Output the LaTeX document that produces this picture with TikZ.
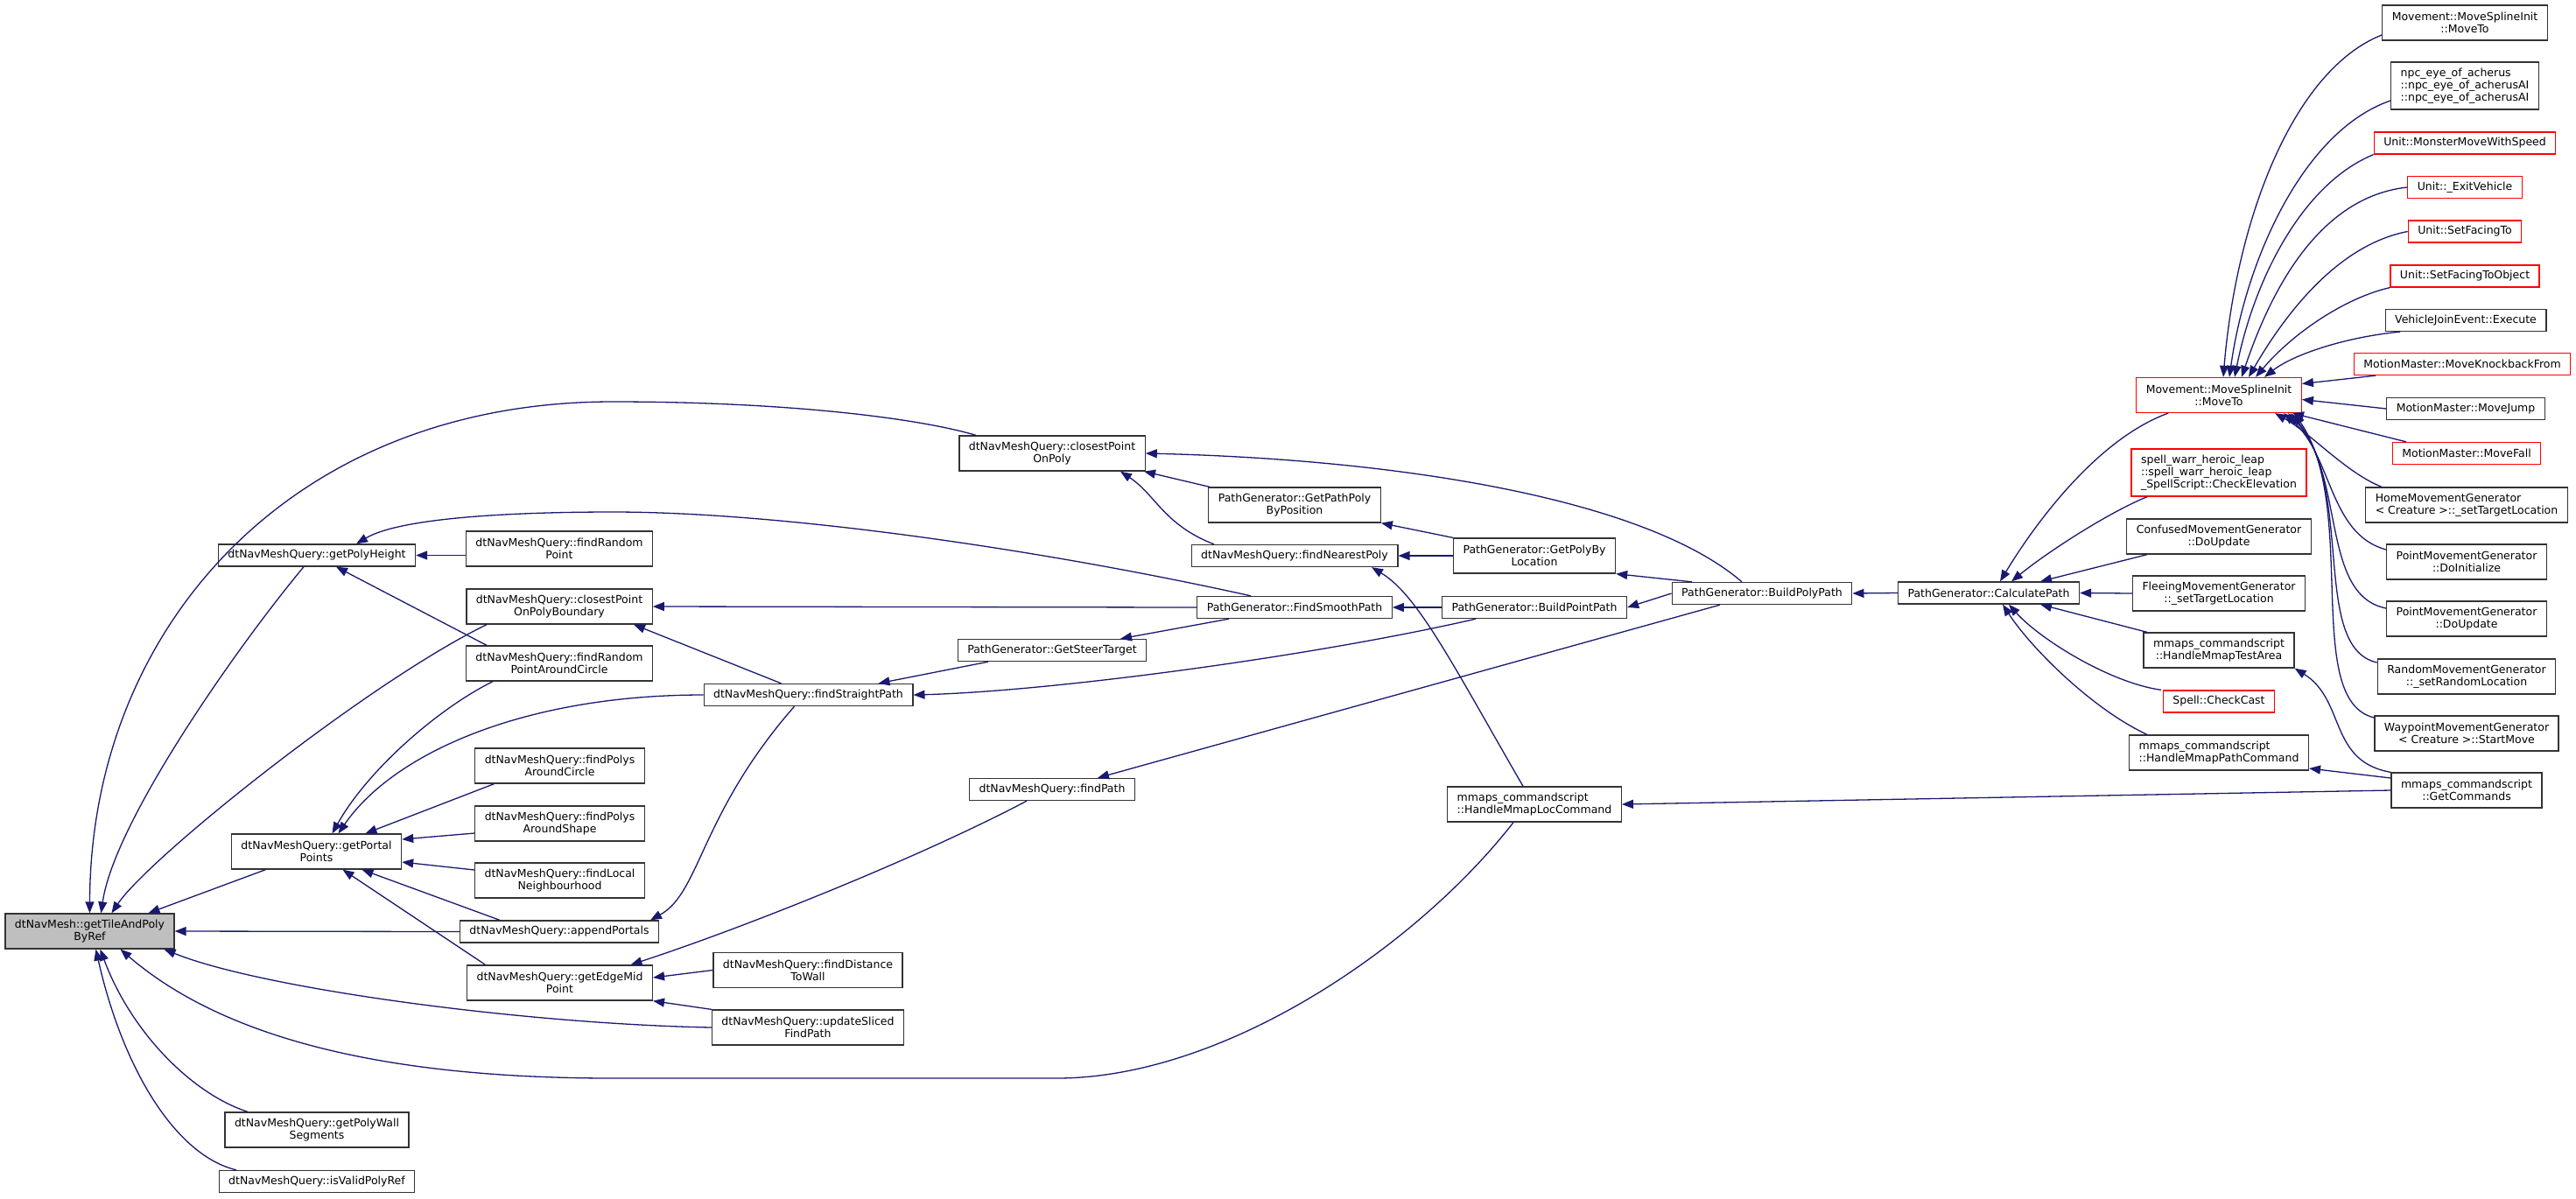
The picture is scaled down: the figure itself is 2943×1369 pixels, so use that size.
\documentclass[tikz,border=0pt]{standalone}
\usepackage{fontspec}
\newfontfamily\dvsans{DejaVu Sans}
\usepackage{tikz}
\usetikzlibrary{arrows.meta,calc}
\definecolor{edgeblue}{HTML}{191970}

\begin{document}
\begin{tikzpicture}[x=1pt, y=-1pt, >={Triangle[length=13pt,width=10pt]},
  fn/.style={draw=black!80, line width=1.3pt, fill=white, inner xsep=11pt, inner ysep=2pt,
    align=center, font=\dvsans\fontsize{12.5}{14}\selectfont},
  fnred/.style={fn, draw=red},
  one/.style={minimum height=25pt},
  two/.style={minimum height=40pt},
  three/.style={minimum height=54pt},
  call/.style={<-, draw=edgeblue, fill=none, line width=1.3pt}]

\fill [white] (0,0) rectangle (2943,1369);
\useasboundingbox (0,0) rectangle (2943,1369);

\node [fn, two, fill=black!25] at (102.5, 1064) (T) {dtNavMesh::getTileAndPoly\\ByRef};

\node [fn, one] at (362, 634.5) (PH) {dtNavMeshQuery::getPolyHeight};
\node [fn, two] at (361.5, 973) (PP) {dtNavMeshQuery::getPortal\\Points};
\node [fn, two] at (362, 1291) (WS) {dtNavMeshQuery::getPolyWall\\Segments};
\node [fn, one] at (362, 1350) (VR) {dtNavMeshQuery::isValidPolyRef};

\node [fn, two] at (639, 627) (RP) {dtNavMeshQuery::findRandom\\Point};
\node [fn, two] at (639, 693) (CB) {dtNavMeshQuery::closestPoint\\OnPolyBoundary};
\node [fn, two] at (639, 758) (RC) {dtNavMeshQuery::findRandom\\PointAroundCircle};
\node [fn, two] at (639.5, 875) (PC) {dtNavMeshQuery::findPolys\\AroundCircle};
\node [fn, two] at (639.5, 941) (PS) {dtNavMeshQuery::findPolys\\AroundShape};
\node [fn, two] at (639.5, 1006) (LN) {dtNavMeshQuery::findLocal\\Neighbourhood};
\node [fn, one] at (639, 1064.5) (AP) {dtNavMeshQuery::appendPortals};
\node [fn, two] at (639.5, 1123) (EM) {dtNavMeshQuery::getEdgeMid\\Point};

\node [fn, one] at (923.5, 794) (SP) {dtNavMeshQuery::findStraightPath};
\node [fn, two] at (923, 1108.5) (DW) {dtNavMeshQuery::findDistance\\ToWall};
\node [fn, two] at (923, 1174) (US) {dtNavMeshQuery::updateSliced\\FindPath};

\node [fn, two] at (1202, 518) (CP) {dtNavMeshQuery::closestPoint\\OnPoly};
\node [fn, one] at (1202, 743) (ST) {PathGenerator::GetSteerTarget};
\node [fn, one] at (1202, 902) (FP) {dtNavMeshQuery::findPath};

\node [fn, two] at (1479, 577) (GP) {PathGenerator::GetPathPoly\\ByPosition};
\node [fn, one] at (1479, 635) (NP) {dtNavMeshQuery::findNearestPoly};
\node [fn, one] at (1479, 694) (FS) {PathGenerator::FindSmoothPath};

\node [fn, two] at (1753, 635) (GL) {PathGenerator::GetPolyBy\\Location};
\node [fn, one] at (1753, 694) (BP) {PathGenerator::BuildPointPath};
\node [fn, two, align=left] at (1753, 919) (HL) {mmaps\_commandscript\\::HandleMmapLocCommand};

\node [fn, one] at (2013, 678) (PY) {PathGenerator::BuildPolyPath};
\node [fn, one] at (2272, 677.5) (CA) {PathGenerator::CalculatePath};

\node [fnred, two] at (2535, 451.5) (MS) {Movement::MoveSplineInit\\::MoveTo};
\node [fnred, three, align=left] at (2535, 540) (SW) {spell\_warr\_heroic\_leap\\::spell\_warr\_heroic\_leap\\\_SpellScript::CheckElevation};
\node [fn, two] at (2535, 613) (CF) {ConfusedMovementGenerator\\::DoUpdate};
\node [fn, two] at (2535, 678) (FL) {FleeingMovementGenerator\\::\_setTargetLocation};
\node [fn, two] at (2535, 743) (TA) {mmaps\_commandscript\\::HandleMmapTestArea};
\node [fnred, one] at (2535, 801.5) (CC) {Spell::CheckCast};
\node [fn, two, align=left] at (2535, 860) (PA) {mmaps\_commandscript\\::HandleMmapPathCommand};

\node [fn, two] at (2816, 26) (MT) {Movement::MoveSplineInit\\::MoveTo};
\node [fn, three, align=left] at (2816, 98) (NE) {npc\_eye\_of\_acherus\\::npc\_eye\_of\_acherusAI\\::npc\_eye\_of\_acherusAI};
\node [fnred, one] at (2816, 163.5) (MM) {Unit::MonsterMoveWithSpeed};
\node [fnred, one] at (2816, 214) (EV) {Unit::\_ExitVehicle};
\node [fnred, one] at (2816, 264.5) (FT) {Unit::SetFacingTo};
\node [fnred, one] at (2816, 315.5) (FO) {Unit::SetFacingToObject};
\node [fn, one] at (2817, 366) (VJ) {VehicleJoinEvent::Execute};
\node [fnred, one] at (2813, 416) (KB) {MotionMaster::MoveKnockbackFrom};
\node [fn, one] at (2817, 467) (MJ) {MotionMaster::MoveJump};
\node [fnred, one] at (2818, 518) (MF) {MotionMaster::MoveFall};
\node [fn, two, align=left] at (2818, 577) (HM) {HomeMovementGenerator\\< Creature >::\_setTargetLocation};
\node [fn, two] at (2818, 642) (PI) {PointMovementGenerator\\::DoInitialize};
\node [fn, two] at (2818, 707) (PU) {PointMovementGenerator\\::DoUpdate};
\node [fn, two] at (2818, 773) (RM) {RandomMovementGenerator\\::\_setRandomLocation};
\node [fn, two] at (2818, 838) (WP) {WaypointMovementGenerator\\< Creature >::StartMove};
\node [fn, two] at (2818, 903) (GC) {mmaps\_commandscript\\::GetCommands};

% callers of getTileAndPolyByRef
\draw [call] (T.north) .. controls (103,720) and (330,459) .. (700,459) .. controls (900,459) and (1050,478) .. ([xshift=-87pt]CP.north);
\draw [call] ([xshift=13pt]T.north) .. controls (130,940) and (270,740) .. ([xshift=-15pt]PH.south);
\draw [call] ([xshift=25pt]T.north) .. controls (170,980) and (420,780) .. ([xshift=-83pt]CB.south);
\draw [call] ([xshift=67pt]T.north) -- ([xshift=-58pt]PP.south);
\draw [call] (T.east) -- (AP.west);
\draw [call] ([xshift=85pt]T.south) .. controls (300,1130) and (600,1170) .. (US.west);
\draw [call] ([xshift=35pt]T.south) .. controls (260,1190) and (450,1232) .. (700,1232) -- (1207,1232) .. controls (1400,1232) and (1620,1080) .. ([xshift=-24pt]HL.south);
\draw [call] ([xshift=12pt]T.south) .. controls (150,1180) and (220,1250) .. ([xshift=-79pt]WS.north);
\draw [call] ([xshift=7pt]T.south) .. controls (140,1220) and (200,1320) .. ([xshift=-92pt]VR.north);

\draw [call] (PH.east) -- (PH.east -| RP.west);
\draw [call] ([xshift=22pt]PH.south) -- ([xshift=-83pt]RC.north);
\draw [call] ([xshift=45pt]PH.north) .. controls (460,590) and (600,585) .. (700,585) .. controls (900,585) and (1200,630) .. ([xshift=-50pt]FS.north);

\draw [call] (CB.east) -- (FS.west);
\draw [call] ([xshift=85pt]CB.south) -- ([xshift=-31pt]SP.north);

% callers of getPortalPoints
\draw [call] ([xshift=18pt]PP.north) .. controls (420,880) and (500,810) .. ([xshift=-76pt]RC.south);
\draw [call] ([xshift=25pt]PP.north) .. controls (450,860) and (600,794) .. (SP.west);
\draw [call] ([xshift=56pt]PP.north) -- ([xshift=-75pt]PC.south);
\draw [call] ([yshift=14pt]PP.east) -- ([yshift=-11pt]PS.west);
\draw [call] ([yshift=-12pt]PP.east) -- ([yshift=12pt]LN.west);
\draw [call] ([xshift=52pt]PP.south) -- ([xshift=-68pt]AP.north);
\draw [call] ([xshift=30pt]PP.south) -- ([xshift=-85pt]EM.north);

\draw [call] ([xshift=104pt]AP.north) .. controls (800,1020) and (800,930) .. ([xshift=-16pt]SP.south);
\draw [call] ([xshift=81pt]EM.north) .. controls (850,1060) and (1050,980) .. ([xshift=-29pt]FP.south);
\draw [call] ([yshift=6pt]EM.east) -- (DW.west);
\draw [call] (EM.south east) -- (US.north west);

\draw [call] ([xshift=80pt]SP.north) -- ([xshift=-73pt]ST.south);
\draw [call] (SP.east) .. controls (1200,790) and (1500,750) .. ([xshift=-67pt]BP.south);
\draw [call] ([xshift=78pt]ST.north) -- ([xshift=-75pt]FS.south);

% PathGenerator side
\draw [call] (CP.east) .. controls (1600,525) and (1880,570) .. ([xshift=-23pt]PY.north);
\draw [call] ([xshift=105pt]CP.south) -- ([xshift=-97pt]GP.north);
\draw [call] ([xshift=78pt]CP.south) .. controls (1320,565) and (1330,600) .. ([xshift=-92pt]NP.north);
\draw [call] (NP.east) -- (GL.west);
\draw [call] ([xshift=88pt]NP.south) .. controls (1620,680) and (1660,760) .. ([xshift=-13pt]HL.north);
\draw [call] (GP.south east) -- (GL.north west);
\draw [call] (GL.south east) -- ([xshift=-80pt]PY.north);
\draw [call] (FS.east) -- (BP.west);
\draw [call] (BP.east) -- (PY.west);
\draw [call] (PY.east) -- (CA.west);
\draw [call] ([xshift=52pt]FP.north) -- ([xshift=-48pt]PY.south);
\draw [call] (HL.east) -- (GC.west);

% callers of CalculatePath
\draw [call] ([xshift=13pt]CA.north) .. controls (2330,590) and (2400,500) .. ([xshift=-58pt]MS.south);
\draw [call] ([xshift=26pt]CA.north) .. controls (2340,630) and (2410,585) .. ([xshift=-82pt]SW.south);
\draw [call] ([xshift=59pt]CA.north) -- ([xshift=-82pt]CF.south);
\draw [call] (CA.east) -- (FL.west);
\draw [call] ([xshift=59pt]CA.south) -- ([xshift=-82pt]TA.north);
\draw [call] ([xshift=23pt]CA.south) .. controls (2330,730) and (2410,780) .. ([xshift=-66pt]CC.north);
\draw [call] ([xshift=16pt]CA.south) .. controls (2320,740) and (2390,810) .. ([xshift=-82pt]PA.north);
\draw [call] (TA.south east) .. controls (2680,800) and (2660,870) .. (GC.north west);
\draw [call] ([yshift=-18pt]PA.east) -- ([yshift=14pt]GC.west);

% callers of MoveSplineInit::MoveTo
\draw [call] ([xshift=5pt]MS.north) .. controls (2555,250) and (2620,80) .. ([yshift=-14pt]MT.west);
\draw [call] ([xshift=12pt]MS.north) .. controls (2565,300) and (2630,150) .. ([yshift=-17pt]NE.west);
\draw [call] ([xshift=18pt]MS.north) .. controls (2575,320) and (2630,210) .. (MM.south west);
\draw [call] ([xshift=26pt]MS.north) .. controls (2595,330) and (2650,225) .. (EV.west);
\draw [call] ([xshift=34pt]MS.north) .. controls (2610,360) and (2670,280) .. (FT.west);
\draw [call] ([xshift=42pt]MS.north) .. controls (2620,380) and (2680,340) .. (FO.south west);
\draw [call] ([xshift=52pt]MS.north) .. controls (2620,405) and (2680,385) .. ([xshift=-75pt]VJ.south);
\draw [call] ([yshift=13pt]MS.east) -- ([xshift=-99pt]KB.south);
\draw [call] ([yshift=-5pt]MS.east) -- (MJ.west);
\draw [call] ([xshift=84pt]MS.south) -- ([xshift=-69pt]MF.north);
\draw [call] ([xshift=64pt]MS.south) .. controls (2640,495) and (2680,540) .. ([xshift=-97pt]HM.north);
\draw [call] ([xshift=74pt]MS.south) .. controls (2665,520) and (2660,610) .. ([yshift=14pt]PI.west);
\draw [call] ([xshift=79pt]MS.south) .. controls (2680,540) and (2650,680) .. ([yshift=12pt]PU.west);
\draw [call] ([xshift=82pt]MS.south) .. controls (2690,560) and (2640,740) .. ([yshift=16pt]RM.west);
\draw [call] ([xshift=86pt]MS.south) .. controls (2695,580) and (2630,800) .. ([yshift=18pt]WP.west);

\end{tikzpicture}
\end{document}
